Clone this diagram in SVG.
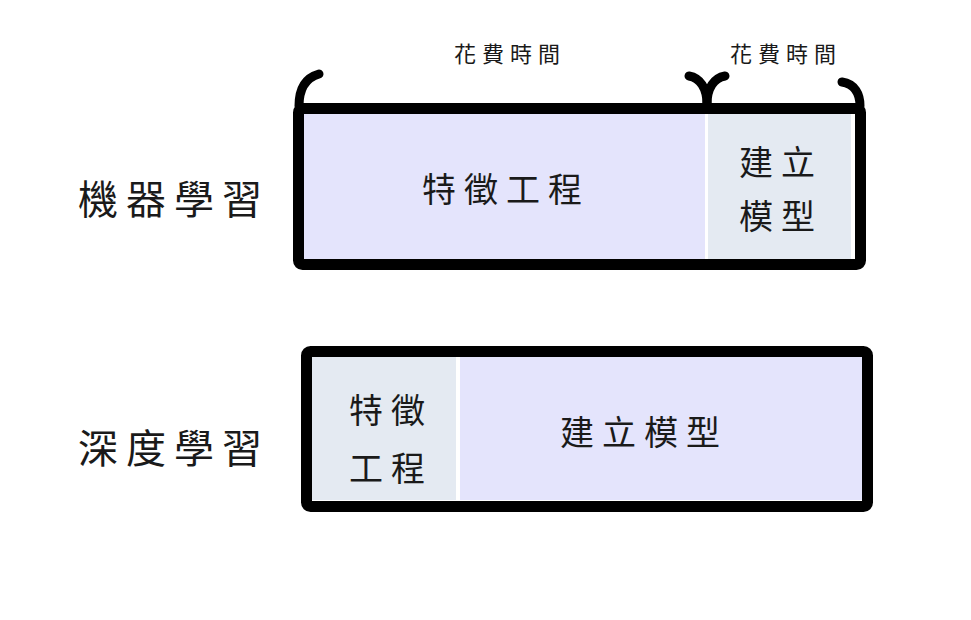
<svg xmlns="http://www.w3.org/2000/svg" width="971" height="620" viewBox="0 0 971 620">
<style>
.t{font-family:"Noto Sans CJK TC","Noto Sans CJK SC",sans-serif;fill:#1a1a1a;text-anchor:middle;dominant-baseline:central}
.m{font-size:34px;letter-spacing:8px}
.l{font-size:40px;letter-spacing:8px}
.s{font-size:22px;letter-spacing:6px}
.box{fill:none;stroke:#000;stroke-width:11;stroke-linejoin:round}
.br{fill:none;stroke:#000;stroke-width:9;stroke-linecap:round}
.a{fill:#e4e4fc}
.b{fill:#e4eaf2}
</style>
<rect width="971" height="620" fill="#fff"/>
<g id="ml">
<rect class="a" x="303" y="114" width="402" height="146"/>
<rect class="b" x="708" y="114" width="143" height="146"/>
<rect class="box" x="298.5" y="108.5" width="562" height="156" rx="4"/>
<text class="t m" x="506" y="187">特徵工程</text>
<text class="t m" x="781" y="160">建立</text>
<text class="t m" x="781" y="214">模型</text>
</g>
<g id="dl">
<rect class="b" x="311" y="357" width="145" height="143"/>
<rect class="a" x="460" y="357" width="403" height="143"/>
<rect class="box" x="306.5" y="351.5" width="561" height="155" rx="4"/>
<text class="t m" x="391" y="408">特徵</text>
<text class="t m" x="391" y="466">工程</text>
<text class="t m" x="644" y="430">建立模型</text>
</g>
<g id="labels">
<text class="t l" x="174" y="197">機器學習</text>
<text class="t l" x="174" y="446">深度學習</text>
<text class="t s" x="510" y="52">花費時間</text>
<text class="t s" x="786" y="52">花費時間</text>
</g>
<g id="connectors">
<path class="br" d="M319,74 C305,78 299,90 299,106"/>
<path class="br" d="M689,76 C700,78 707,88 707,104"/>
<path class="br" d="M725,76 C714,78 707,88 707,104"/>
<path class="br" d="M842,82 C855,84 860,94 860,106"/>
</g>
</svg>
